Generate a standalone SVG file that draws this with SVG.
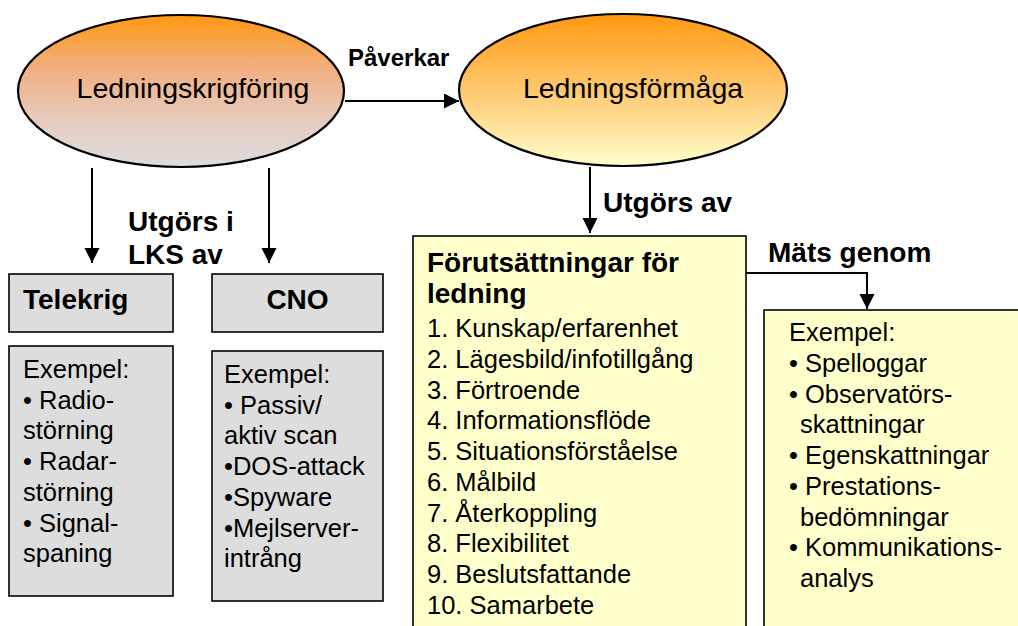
<svg xmlns="http://www.w3.org/2000/svg" width="1018" height="626" viewBox="0 0 1018 626">
  <style>
    text { font-family: "Liberation Sans", Arial, sans-serif; fill: #000; }
    .big { font-size: 28.5px; }
    .lbl { font-size: 28px; font-weight: bold; }
    .body { font-size: 25.5px; }
    .gray { fill: #DDDDDD; stroke: #000; stroke-width: 1.6; }
    .yellow { fill: #FFFFCC; stroke: #000; stroke-width: 1.6; }
    .oval { stroke: #000; stroke-width: 2.2; }
    .conn { fill: none; stroke: #000; stroke-width: 2; }
  </style>
  <defs>
    <linearGradient id="gradWarfare" x1="0" y1="0" x2="0" y2="1">
      <stop offset="0" stop-color="#FF9810"/>
      <stop offset="0.35" stop-color="#F2AE80"/>
      <stop offset="0.7" stop-color="#E6CCBF"/>
      <stop offset="1" stop-color="#DDDDDD"/>
    </linearGradient>
    <linearGradient id="gradCapability" x1="0" y1="0" x2="0" y2="1">
      <stop offset="0" stop-color="#FF9810"/>
      <stop offset="0.5" stop-color="#FFC870"/>
      <stop offset="1" stop-color="#FFFFCC"/>
    </linearGradient>
    <marker id="arrow" markerUnits="userSpaceOnUse" markerWidth="16" markerHeight="16" refX="15" refY="7.5" orient="auto">
      <path d="M0,0 L15,7.5 L0,15 Z" fill="#000"/>
    </marker>
  </defs>

  <!-- connectors -->
  <g id="connectors">
    <line class="conn" x1="345" y1="101" x2="459" y2="101" marker-end="url(#arrow)"/>
    <line class="conn" x1="92" y1="168" x2="92" y2="263" marker-end="url(#arrow)"/>
    <line class="conn" x1="269" y1="168" x2="269" y2="263" marker-end="url(#arrow)"/>
    <line class="conn" x1="590" y1="167" x2="590" y2="233" marker-end="url(#arrow)"/>
    <polyline class="conn" points="746,273 867,273 867,309" marker-end="url(#arrow)"/>
    <text class="lbl" x="348" y="66" style="font-size:24px">Påverkar</text>
    <text class="lbl" x="128" y="231">Utgörs i</text>
    <text class="lbl" x="128" y="264">LKS av</text>
    <text class="lbl" x="603" y="212">Utgörs av</text>
    <text class="lbl" x="768" y="262">Mäts genom</text>
  </g>

  <!-- electronic command warfare -->
  <g id="ledningskrigforing">
    <ellipse class="oval" cx="181" cy="91" rx="163" ry="76" fill="url(#gradWarfare)"/>
    <text class="big" x="193" y="98" text-anchor="middle">Ledningskrigföring</text>
  </g>

  <!-- command capability -->
  <g id="ledningsformaga">
    <ellipse class="oval" cx="623" cy="90" rx="164" ry="76" fill="url(#gradCapability)"/>
    <text class="big" x="633" y="98" text-anchor="middle">Ledningsförmåga</text>
  </g>

  <g id="telekrig">
    <rect class="gray" x="9" y="274" width="164" height="58"/>
    <text class="lbl" x="23" y="309">Telekrig</text>
  </g>

  <g id="cno">
    <rect class="gray" x="212" y="274" width="171" height="58"/>
    <text class="lbl" x="297.5" y="309" text-anchor="middle">CNO</text>
  </g>

  <g id="telekrig-exempel">
    <rect class="gray" x="9" y="346" width="164" height="250"/>
    <text class="body" x="23">
      <tspan x="23" y="378">Exempel:</tspan>
      <tspan x="23" y="408.7">• Radio-</tspan>
      <tspan x="23" y="439.4">störning</tspan>
      <tspan x="23" y="470.1">• Radar-</tspan>
      <tspan x="23" y="500.8">störning</tspan>
      <tspan x="23" y="531.5">• Signal-</tspan>
      <tspan x="23" y="562.2">spaning</tspan>
    </text>
  </g>

  <g id="cno-exempel">
    <rect class="gray" x="212" y="351" width="171" height="250"/>
    <text class="body" x="224">
      <tspan x="224" y="383">Exempel:</tspan>
      <tspan x="224" y="413.7">• Passiv/</tspan>
      <tspan x="224" y="444.4">aktiv scan</tspan>
      <tspan x="224" y="475.1">•DOS-attack</tspan>
      <tspan x="224" y="505.8">•Spyware</tspan>
      <tspan x="224" y="536.5">•Mejlserver-</tspan>
      <tspan x="224" y="567.2">intrång</tspan>
    </text>
  </g>

  <g id="forutsattningar">
    <rect class="yellow" x="413" y="236" width="333" height="410"/>
    <text class="lbl" x="427" y="272">Förutsättningar för</text>
    <text class="lbl" x="427" y="303">ledning</text>
    <text class="body">
      <tspan x="427" y="337">1. Kunskap/erfarenhet</tspan>
      <tspan x="427" y="367.75">2. Lägesbild/infotillgång</tspan>
      <tspan x="427" y="398.5">3. Förtroende</tspan>
      <tspan x="427" y="429.25">4. Informationsflöde</tspan>
      <tspan x="427" y="460">5. Situationsförståelse</tspan>
      <tspan x="427" y="490.75">6. Målbild</tspan>
      <tspan x="427" y="521.5">7. Återkoppling</tspan>
      <tspan x="427" y="552.25">8. Flexibilitet</tspan>
      <tspan x="427" y="583">9. Beslutsfattande</tspan>
      <tspan x="427" y="613.75">10. Samarbete</tspan>
    </text>
  </g>

  <g id="matmetoder">
    <rect class="yellow" x="764" y="310" width="280" height="340"/>
    <text class="body">
      <tspan x="789" y="341">Exempel:</tspan>
      <tspan x="789" y="371.75">• Spelloggar</tspan>
      <tspan x="789" y="402.5">• Observatörs-</tspan>
      <tspan x="800" y="433.25">skattningar</tspan>
      <tspan x="789" y="464">• Egenskattningar</tspan>
      <tspan x="789" y="494.75">• Prestations-</tspan>
      <tspan x="800" y="525.5">bedömningar</tspan>
      <tspan x="789" y="556.25">• Kommunikations-</tspan>
      <tspan x="800" y="587">analys</tspan>
    </text>
  </g>
</svg>
